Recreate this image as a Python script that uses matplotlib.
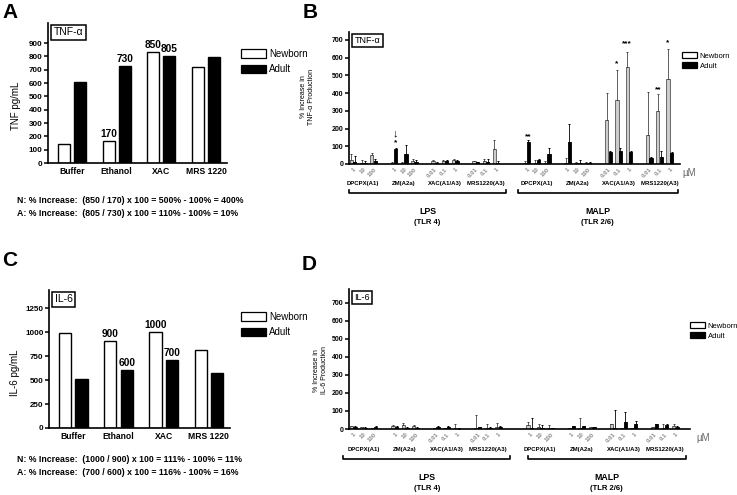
import numpy as np
import matplotlib.pyplot as plt
from matplotlib.patches import Patch
from matplotlib.transforms import blended_transform_factory

plt.rcParams['font.family'] = ['Liberation Sans', 'DejaVu Sans']
plt.rcParams['font.weight'] = 'bold'

W, H = 737, 495

# ---- panels A and C: absolute cytokine levels
treatments = ["Buffer", "Ethanol", "XAC", "MRS 1220"]
tnf_newborn = [140, 168, 835, 718]
tnf_adult = [610, 730, 803, 798]
tnf_lbl_newborn = ["", "170", "850", ""]
tnf_lbl_adult = ["", "730", "805", ""]
tnf_ticks = [0, 100, 200, 300, 400, 500, 600, 700, 800, 900]
tnf_notes = ["N: % Increase:  (850 / 170) x 100 = 500% - 100% = 400%",
             "A: % Increase:  (805 / 730) x 100 = 110% - 100% = 10%"]

il6_newborn = [990, 910, 1003, 810]
il6_adult = [515, 608, 712, 578]
il6_lbl_newborn = ["", "900", "1000", ""]
il6_lbl_adult = ["", "600", "700", ""]
il6_ticks = [0, 250, 500, 750, 1000, 1250]
il6_notes = ["N: % Increase:  (1000 / 900) x 100 = 111% - 100% = 11%",
             "A: % Increase:  (700 / 600) x 100 = 116% - 100% = 16%"]

# ---- panels B and D: % increase, LPS block then MALP block
stimuli = ["LPS", "MALP"]
receptors = ["(TLR 4)", "(TLR 2/6)"]
drugs = ["DPCPX(A1)", "ZM(A2a)", "XAC(A1/A3)", "MRS1220(A3)"]
doses = [["1", "10", "100"], ["1", "10", "100"],
         ["0.01", "0.1", "1"], ["0.01", "0.1", "1"]]

tnf_pct_newborn = [25, 3, 48, 5, 5, 15, 18, 15, 25, 15, 18, 85,
                   3, 8, 5, 8, 3, 8, 250, 362, 550, 165, 300, 480]
tnf_pct_newborn_err = [30, 19, 14, 7, 5, 13, 4, 5, 5, 3, 12, 50,
                       12, 12, 13, 27, 7, 2, 153, 170, 80, 240, 93, 170]
tnf_pct_adult = [12, 3, 15, 85, 55, 10, 8, 15, 15, 10, 12, 3,
                 125, 20, 55, 125, 5, 8, 68, 75, 68, 35, 42, 60]
tnf_pct_adult_err = [33, 15, 12, 3, 52, 10, 4, 5, 10, 3, 18, 12,
                     10, 8, 33, 100, 17, 2, 4, 15, 7, 3, 33, 5]
# (condition index, series, mark, height)
tnf_marks = [(3, "adult", "*", 118), (3, "adult", "\u2193", 170),
             (12, "adult", "**", 152), (19, "newborn", "*", 568),
             (20, "newborn", "***", 677), (22, "newborn", "**", 418),
             (23, "newborn", "*", 687)]

il6_pct_newborn = [15, 10, 5, 15, 20, 15, 5, 5, 5, 8, 5, 10,
                   20, 10, 5, 5, 5, 10, 25, 5, 5, 10, 5, 15]
il6_pct_newborn_err = [3, 2, 3, 5, 15, 7, 3, 3, 20, 67, 20, 25,
                       20, 15, 15, 3, 55, 2, 3, 3, 3, 2, 25, 10]
il6_pct_adult = [12, 8, 10, 10, 8, 8, 12, 12, 2, 10, 5, 10,
                 5, 5, 3, 15, 15, 10, 5, 40, 25, 25, 20, 10]
il6_pct_adult_err = [3, 4, 5, 5, 4, 2, 3, 6, 1, 2, 5, 5,
                     55, 15, 2, 3, 3, 2, 100, 55, 20, 5, 5, 5]

group_starts = [0, 4, 8, 12, 17, 21, 25, 29]


def px_axes(fig, left, top, right, bottom):
    return fig.add_axes([left / W, 1 - bottom / H, (right - left) / W, (bottom - top) / H])


def style_axes(ax, tick_size):
    for s in ("top", "right"):
        ax.spines[s].set_visible(False)
    for s in ("left", "bottom"):
        ax.spines[s].set_linewidth(1.2)
    ax.tick_params(axis="y", direction="out", length=3, width=1.1, labelsize=tick_size, pad=1)


def tag_box(ax, text, size):
    ax.annotate(text, xy=(0, 1), xycoords="axes fraction", xytext=(4, -3),
                textcoords="offset points", ha="left", va="top", fontsize=size,
                fontweight="normal",
                bbox=dict(boxstyle="square,pad=0.25", fc="white", ec="black", lw=1.1))


def add_legend(ax, fig, x, y, size, hl, hh, spacing):
    handles = [Patch(facecolor="white", edgecolor="black", lw=0.9, label="Newborn"),
               Patch(facecolor="black", edgecolor="black", lw=0.9, label="Adult")]
    leg = ax.legend(handles=handles, loc="upper left", bbox_to_anchor=(x / W, 1 - y / H),
                    bbox_transform=fig.transFigure, frameon=False, fontsize=size,
                    handlelength=hl, handleheight=hh, handletextpad=0.3,
                    labelspacing=spacing, borderaxespad=0, borderpad=0)
    for t in leg.get_texts():
        t.set_fontweight("normal")


def abs_panel(fig, rect, newborn, adult, lbl_n, lbl_a, ticks, ymax, ylabel, tag,
              label_xy, notes, notes_y, legend_y):
    ax = px_axes(fig, *rect)
    x = np.arange(len(treatments))
    off, w = 0.18, 0.27
    ax.bar(x - off, newborn, w, facecolor="white", edgecolor="black", lw=1.0)
    ax.bar(x + off, adult, w, facecolor="black", edgecolor="black", lw=1.0)
    for xi, v, t in zip(x - off, newborn, lbl_n):
        ax.annotate(t, (xi, v), xytext=(0, 1.5), textcoords="offset points",
                    ha="center", va="bottom", fontsize=7.3)
    for xi, v, t in zip(x + off, adult, lbl_a):
        ax.annotate(t, (xi, v), xytext=(0, 1.5), textcoords="offset points",
                    ha="center", va="bottom", fontsize=7.3)
    ax.set_xlim(-0.54, 3.47)
    ax.set_ylim(0, ymax)
    ax.set_yticks(ticks)
    ax.set_xticks(x)
    ax.set_xticklabels(treatments, fontsize=6.2)
    ax.tick_params(axis="x", length=0, pad=3)
    style_axes(ax, 5.8)
    ax.set_ylabel(ylabel, fontsize=7)
    ax.yaxis.set_label_coords(*label_xy)
    tag_box(ax, tag, 7.5)
    add_legend(ax, fig, 241, legend_y, 7, 2.6, 1.0, 0.55)
    for i, line in enumerate(notes):
        fig.text(17 / W, 1 - (notes_y + 12.6 * i) / H, line, fontsize=6.3,
                 ha="left", va="center")
    return ax


def pct_panel(fig, rect, xlim, ymax, newborn, newborn_err, adult, adult_err, tag,
              ylabel, label_xy, marks, geo, legend_xy):
    ax = px_axes(fig, *rect)
    pos = np.array([s + k for s in group_starts for k in range(3)], dtype=float)
    off, w = 0.17, 0.32
    zeros = np.zeros(len(pos))
    ax.bar(pos - off, newborn, w, facecolor="#cccccc", edgecolor="#555555", lw=0.6)
    ax.bar(pos + off, adult, w, facecolor="black", edgecolor="black", lw=0.6)
    ax.errorbar(pos - off, newborn, yerr=[zeros, newborn_err], fmt="none",
                ecolor="#444444", elinewidth=0.6, capsize=1.0, capthick=0.7)
    ax.errorbar(pos + off, adult, yerr=[zeros, adult_err], fmt="none",
                ecolor="black", elinewidth=0.6, capsize=1.0, capthick=0.7)
    for idx, series, mark, yv in marks:
        xm = pos[idx] - off if series == "newborn" else pos[idx] + off
        size = 8 if mark == "\u2193" else 6
        ax.text(xm, yv, mark, ha="center", va="center", fontsize=size)
    ax.set_xlim(*xlim)
    ax.set_ylim(0, ymax)
    ax.set_yticks(range(0, 701, 100))
    ax.set_xticks(pos)
    ax.set_xticklabels([d for _ in stimuli for grp in doses for d in grp],
                       rotation=45, ha="right", rotation_mode="anchor",
                       fontsize=4.4, color="#8a8a8a")
    ax.tick_params(axis="x", length=0, pad=2)
    style_axes(ax, 5)
    ax.set_ylabel(ylabel, fontsize=5, linespacing=1.1)
    ax.yaxis.set_label_coords(*label_xy)
    tag_box(ax, tag, 6.5)

    tr = blended_transform_factory(ax.transData, ax.transAxes)
    for b in range(2):
        for d, drug in enumerate(drugs):
            ax.text(group_starts[4 * b + d] + 1, geo["drug_y"], drug, transform=tr,
                    ha="center", va="center", fontsize=4.3)
        x0, x1 = geo["brackets"][b]
        yb, hb = geo["bracket_y"], geo["bracket_h"]
        ax.plot([x0, x0, x1, x1], [yb + hb, yb, yb, yb + hb], transform=tr,
                clip_on=False, color="black", lw=1.2)
        xc = (x0 + x1) / 2
        ax.text(xc, geo["stim_y"], stimuli[b], transform=tr, ha="center",
                va="center", fontsize=6.3)
        ax.text(xc, geo["rec_y"], receptors[b], transform=tr, ha="center",
                va="center", fontsize=5.5)
    ax.text(geo["um_x"], geo["um_y"], "\u00b5M", transform=ax.transAxes,
            ha="left", va="center", fontsize=7, color="#666666", fontweight="normal")
    add_legend(ax, fig, legend_xy[0], legend_xy[1], 5.5, 2.0, 0.8, 0.35)
    return ax


fig = plt.figure(figsize=(W / 100, H / 100), dpi=100)

abs_panel(fig, (48, 23, 227, 163), tnf_newborn, tnf_adult, tnf_lbl_newborn,
          tnf_lbl_adult, tnf_ticks, 1050, "TNF pg/mL", "TNF-\u03b1",
          (-0.15, 0.41), tnf_notes, 200.5, 49)
abs_panel(fig, (49, 290, 230, 428), il6_newborn, il6_adult, il6_lbl_newborn,
          il6_lbl_adult, il6_ticks, 1440, "IL-6 pg/mL", "IL-6",
          (-0.16, 0.40), il6_notes, 460, 312)

geo_b = dict(drug_y=-20 / 132, bracket_y=-29 / 132, bracket_h=3 / 132,
             brackets=[(-0.4, 15.0), (16.1, 31.8)], stim_y=-47 / 132,
             rec_y=-58 / 132, um_x=1.008, um_y=-9 / 132)
pct_panel(fig, (349, 32, 680, 164), (-0.4, 32.0), 745, tnf_pct_newborn,
          tnf_pct_newborn_err, tnf_pct_adult, tnf_pct_adult_err, "TNF-\u03b1",
          "% Increase in\nTNF-\u03b1 Production", (-0.103, 0.51), tnf_marks, geo_b,
          (682, 52))

geo_d = dict(drug_y=-21 / 140, bracket_y=-30 / 140, bracket_h=3 / 140,
             brackets=[(-0.95, 15.1), (16.8, 32.0)], stim_y=-48 / 140,
             rec_y=-60 / 140, um_x=1.02, um_y=-9 / 140)
pct_panel(fig, (349, 289, 690, 429), (-0.4, 32.4), 776, il6_pct_newborn,
          il6_pct_newborn_err, il6_pct_adult, il6_pct_adult_err, "IL-6",
          "% Increase in\nIL-6 Production", (-0.062, 0.42), [], geo_d,
          (690, 322))

for letter, (lx, ly) in zip("ABCD", [(2, 12), (303, 12), (2, 261), (302, 264)]):
    fig.text(lx / W, 1 - ly / H, letter, fontsize=15, ha="left", va="center")

fig.savefig("out.png", dpi=100)
